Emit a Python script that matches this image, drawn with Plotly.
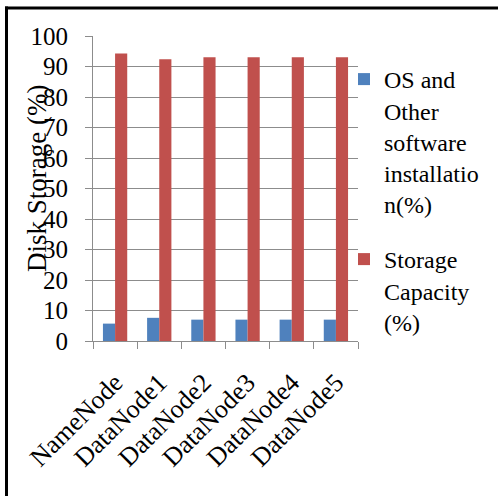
import plotly.graph_objects as go

# Disk usage per Hadoop node
nodes = ["NameNode", "DataNode1", "DataNode2", "DataNode3", "DataNode4", "DataNode5"]
os_software = [5.7, 7.6, 7.0, 7.0, 7.0, 7.0]
storage_capacity = [94.3, 92.4, 93.0, 93.0, 93.0, 93.0]
y_ticks = [0, 10, 20, 30, 40, 50, 60, 70, 80, 90, 100]

W, H = 498, 496
L, R, T, B = 93, 140, 36, 155
pw, ph = W - L - R, H - T - B

def px_x(x):
    return (x - L) / pw

def px_y(y):
    return (H - B - y) / ph

FONT = "Liberation Serif, Times New Roman, serif"
GRID = "#8c8c8c"

fig = go.Figure()
fig.add_trace(go.Bar(
    x=nodes, y=os_software, name="OS and<br>Other<br>software<br>installatio<br>n(%)",
    marker=dict(color="#4F81BD", line=dict(width=0)), legendgroup="a",
))
fig.add_trace(go.Bar(
    x=nodes, y=storage_capacity, name="Storage<br>Capacity<br>(%)",
    marker=dict(color="#C0504D", line=dict(width=0)), legendgroup="b",
))

fig.update_layout(
    width=W, height=H,
    margin=dict(l=L, r=R, t=T, b=B, autoexpand=False),
    paper_bgcolor="white", plot_bgcolor="white",
    barmode="group", bargap=0.45, bargroupgap=0,
    font=dict(family=FONT, size=25, color="black"),
    showlegend=True,
    legend=dict(
        x=px_x(344), xanchor="left", y=px_y(57), yanchor="top",
        valign="top", tracegroupgap=21, font=dict(size=24, family=FONT),
        bgcolor="rgba(0,0,0,0)", itemclick=False,
    ),
    xaxis=dict(
        type="category", tickangle=-45, tickson="boundaries",
        ticks="outside", ticklen=7, tickcolor=GRID, tickwidth=1,
        showline=True, linecolor=GRID, linewidth=1,
        showgrid=False, ticklabelstandoff=15,
        tickfont=dict(size=26, family=FONT),
    ),
    yaxis=dict(
        range=[0, 100], tickvals=y_ticks, ticktext=[str(v) for v in y_ticks],
        ticks="outside", ticklen=7, tickcolor=GRID, tickwidth=1,
        showline=True, linecolor=GRID, linewidth=1,
        showgrid=True, gridcolor=GRID, gridwidth=1, zeroline=False,
        ticklabelstandoff=12, tickfont=dict(size=25, family=FONT),
    ),
    annotations=[dict(
        text="Disk Storage (%)", textangle=-90, showarrow=False,
        xref="paper", yref="paper", x=px_x(37), y=px_y(179),
        xanchor="center", yanchor="middle",
        font=dict(size=27, family=FONT, color="black"),
    )],
    shapes=[
        dict(type="line", xref="paper", yref="paper",
             x0=px_x(5), x1=px_x(W + 2), y0=px_y(8), y1=px_y(8),
             line=dict(color="black", width=3)),
        dict(type="line", xref="paper", yref="paper",
             x0=px_x(6.5), x1=px_x(6.5), y0=px_y(6.5), y1=px_y(H + 2),
             line=dict(color="black", width=3)),
    ],
)

fig.write_html("out.html")
